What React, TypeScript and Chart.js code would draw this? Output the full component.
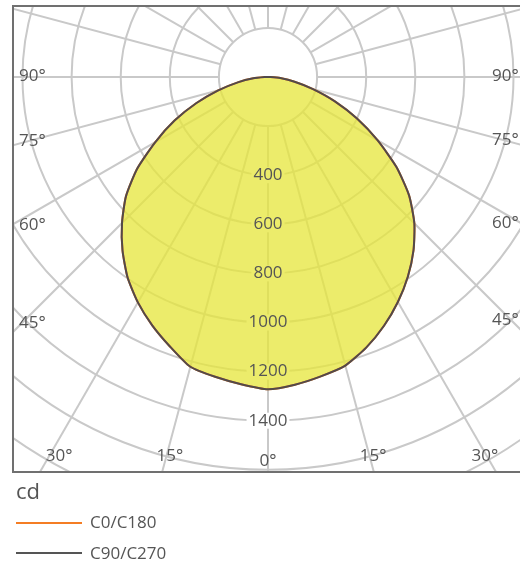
import React, { useEffect, useRef } from 'react';
import { Chart, registerables } from 'chart.js';

Chart.register(...registerables);

// ---- data ----
const GAMMA = [0, 5, 10, 15, 20, 25, 30, 35, 40, 45, 50, 55, 60, 65, 70, 75, 80, 85, 90,
  95, 100, 105, 110, 115, 120, 125, 130, 135, 140, 145, 150, 155, 160, 165, 170, 175, 180];

// C90 half-plane (left) and C270 half-plane (right), cd
const C90_VALUES = [1272, 1256, 1240, 1222, 1168, 1116, 1060, 997, 922, 841, 755, 650, 530, 420, 310, 210, 125, 60, 10,
  0, 0, 0, 0, 0, 0, 0, 0, 0, 0, 0, 0, 0, 0, 0, 0, 0, 0];
const C270_VALUES = [1272, 1258, 1238, 1217, 1172, 1118, 1058, 993, 922, 843, 750, 638, 515, 400, 290, 190, 110, 50, 10,
  0, 0, 0, 0, 0, 0, 0, 0, 0, 0, 0, 0, 0, 0, 0, 0, 0, 0];
// C0 / C180 planes (coincide with C90/C270 for this luminaire)
const C0_VALUES = [1272, 1256, 1240, 1222, 1168, 1116, 1060, 997, 922, 841, 755, 650, 530, 420, 310, 210, 125, 60, 10,
  0, 0, 0, 0, 0, 0, 0, 0, 0, 0, 0, 0, 0, 0, 0, 0, 0, 0];
const C180_VALUES = [1272, 1258, 1238, 1217, 1172, 1118, 1058, 993, 922, 843, 750, 638, 515, 400, 290, 190, 110, 50, 10,
  0, 0, 0, 0, 0, 0, 0, 0, 0, 0, 0, 0, 0, 0, 0, 0, 0, 0];

const SERIES_NAMES = ['C0/C180', 'C90/C270'];
const UNIT_LABEL = 'cd';
const RADIAL_TICK_LABELS = [400, 600, 800, 1000, 1200, 1400];
const DEGREE_LABELS = [0, 15, 30, 45, 60, 75, 90];
const R_MIN = 0;
const R_MAX = 2000;
const R_STEP = 200;
const R_INNER = 200;

// ---- layout / style ----
const CX = 268;
const CY = 77;
const PX_PER_CD = 0.2455;
const BOX = { l: 13, t: 6, r: 520, b: 472 };
const GRID_COLOR = '#c9c9c9';
const TEXT_COLOR = '#555555';
const FONT = '"Open Sans", "Noto Sans", sans-serif';
const ORANGE = '#f47d24';
const DARK = '#524a4a';
const FILL = 'rgba(230, 230, 60, 0.76)';
const DEG_NUDGE: Record<number, [number, number, number]> = {
  0: [0, 0, 5], 15: [3.5, 3.5, 0], 30: [10, -2, 0], 45: [0, 0, -9], 60: [0, 0, 0.5], 75: [0, 0, -4], 90: [0, 0, -1],
};

const labels = [
  ...GAMMA.map((g) => g + '°'),
  ...GAMMA.slice(1, GAMMA.length - 1).reverse().map((g) => g + '°'),
];
const joinHalves = (a: number[], b: number[]) => [...a, ...b.slice(1, b.length - 1).reverse()];

const polarDecor = {
  id: 'polarDecor',
  beforeDraw(chart: any) {
    const ctx = chart.ctx;
    ctx.save();
    ctx.beginPath();
    ctx.rect(BOX.l, BOX.t, BOX.r - BOX.l, BOX.b - BOX.t);
    ctx.clip();
  },
  beforeDatasetsDraw(chart: any) {
    const s = chart.scales.r;
    const ctx = chart.ctx;
    const n = chart.data.labels.length;
    ctx.save();
    ctx.strokeStyle = GRID_COLOR;
    ctx.lineWidth = 2;
    for (let i = 0; i < n; i += 3) {
      const p0 = s.getPointPositionForValue(i, R_INNER);
      const p1 = s.getPointPositionForValue(i, s.max);
      ctx.beginPath();
      ctx.moveTo(p0.x, p0.y);
      ctx.lineTo(p1.x, p1.y);
      ctx.stroke();
    }
    // backdrops behind radial tick labels
    ctx.font = '17px ' + FONT;
    ctx.fillStyle = '#ffffff';
    RADIAL_TICK_LABELS.forEach((v) => {
      const p = s.getPointPositionForValue(0, v);
      const w = ctx.measureText(String(v)).width;
      ctx.fillRect(p.x - w / 2 - 2, p.y - 8, w + 4, 16);
    });
    ctx.restore();
  },
  afterDatasetsDraw(chart: any) {
    const s = chart.scales.r;
    const ctx = chart.ctx;
    const n = chart.data.labels.length;
    ctx.save();
    ctx.font = '17px ' + FONT;
    ctx.fillStyle = TEXT_COLOR;
    ctx.textBaseline = 'middle';
    ctx.textAlign = 'center';
    RADIAL_TICK_LABELS.forEach((v) => {
      const p = s.getPointPositionForValue(0, v);
      ctx.fillText(String(v), p.x, p.y);
    });
    // degree labels
    DEGREE_LABELS.forEach((a) => {
      const idxs = a === 0 ? [[0, 0]] : [[a / 5, 0], [n - a / 5, 1]];
      idxs.forEach(([idx, side]) => {
        const p = s.getPointPositionForValue(idx, s.max);
        const dx = p.x - s.xCenter;
        const dy = p.y - s.yCenter;
        let t = Infinity;
        let edge = '';
        if (dx < -1e-6) { const tt = (BOX.l - s.xCenter) / dx; if (tt < t) { t = tt; edge = 'l'; } }
        if (dx > 1e-6) { const tt = (BOX.r - s.xCenter) / dx; if (tt < t) { t = tt; edge = 'r'; } }
        if (dy > 1e-6) { const tt = (BOX.b - s.yCenter) / dy; if (tt < t) { t = tt; edge = 'b'; } }
        const nud = DEG_NUDGE[a] || [0, 0, 0];
        const text = a + '°';
        if (edge === 'b') {
          const y = BOX.b - 16;
          const x = s.xCenter + (dx * (y - s.yCenter)) / dy + nud[side];
          ctx.textAlign = 'center';
          ctx.fillText(text, x, y + nud[2]);
        } else {
          const y = s.yCenter + dy * t + nud[2];
          ctx.textAlign = 'left';
          const x = edge === 'l' ? BOX.l + 6 : BOX.r - 28;
          ctx.fillText(text, x, y);
        }
      });
    });
    ctx.restore();
  },
  afterDraw(chart: any) {
    const ctx = chart.ctx;
    ctx.restore();
    ctx.save();
    ctx.strokeStyle = '#707070';
    ctx.lineWidth = 2;
    ctx.beginPath();
    ctx.moveTo(BOX.r + 2, BOX.t);
    ctx.lineTo(BOX.l, BOX.t);
    ctx.lineTo(BOX.l, BOX.b);
    ctx.lineTo(BOX.r + 2, BOX.b);
    ctx.stroke();
    ctx.restore();
  },
};

export default function App() {
  const ref = useRef<HTMLCanvasElement | null>(null);
  useEffect(() => {
    if (!ref.current) return;
    const chart = new Chart(ref.current, {
      type: 'radar',
      data: {
        labels,
        datasets: [
          {
            label: SERIES_NAMES[1],
            data: joinHalves(C90_VALUES, C270_VALUES),
            borderColor: DARK,
            borderWidth: 2,
            fill: false,
            pointRadius: 0,
            clip: false,
          },
          {
            label: SERIES_NAMES[0],
            data: joinHalves(C0_VALUES, C180_VALUES),
            borderColor: ORANGE,
            borderWidth: 2,
            backgroundColor: FILL,
            fill: true,
            pointRadius: 0,
            clip: false,
          },
        ],
      },
      options: {
        responsive: false,
        animation: false,
        devicePixelRatio: 1,
        layout: { padding: 0 },
        elements: { line: { tension: 0.2 } },
        plugins: { legend: { display: false }, tooltip: { enabled: false } },
        scales: {
          r: {
            min: R_MIN,
            max: R_MAX,
            startAngle: 180,
            ticks: { stepSize: R_STEP, display: false },
            grid: { circular: true, color: GRID_COLOR, lineWidth: 2 },
            angleLines: { display: false },
            pointLabels: { display: false },
            afterFit: (sc: any) => {
              sc.xCenter = CX;
              sc.yCenter = CY;
              sc.drawingArea = PX_PER_CD * (sc.max - sc.min);
            },
          } as any,
        },
      } as any,
      plugins: [polarDecor],
    });
    return () => chart.destroy();
  }, []);

  const textStyle: React.CSSProperties = {
    position: 'absolute',
    fontFamily: FONT,
    color: TEXT_COLOR,
    whiteSpace: 'nowrap',
  };

  return (
    <div style={{ position: 'absolute', left: 0, top: 0, width: 520, height: 566, background: '#fff', overflow: 'hidden' }}>
      <canvas ref={ref} width={520} height={480} style={{ position: 'absolute', left: 0, top: 0, width: 520, height: 480, display: 'block' }} />
      <div style={{ ...textStyle, left: 16, top: 480, fontSize: 22, lineHeight: '21px' }}>{UNIT_LABEL}</div>
      <div style={{ position: 'absolute', left: 16, top: 521.7, width: 66, height: 2, background: ORANGE }} />
      <div style={{ ...textStyle, left: 90, top: 512, fontSize: 17, lineHeight: '20px' }}>{SERIES_NAMES[0]}</div>
      <div style={{ position: 'absolute', left: 16, top: 551.7, width: 66, height: 2, background: '#555555' }} />
      <div style={{ ...textStyle, left: 90, top: 542.5, fontSize: 17, lineHeight: '20px' }}>{SERIES_NAMES[1]}</div>
    </div>
  );
}
